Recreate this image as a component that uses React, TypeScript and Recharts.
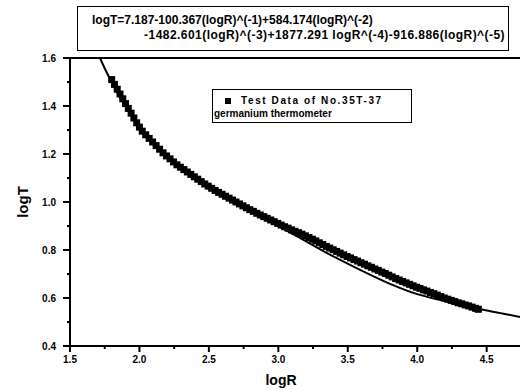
import {
  ComposedChart,
  Line,
  ReferenceLine,
  Scatter,
  XAxis,
  YAxis,
} from 'recharts';

// measured squares (logR, logT)
const DATA_X = [
  1.8, 1.82, 1.84, 1.86, 1.88, 1.9, 1.92, 1.94, 1.96, 1.98, 2.0, 2.02, 2.045, 2.07, 2.095,
  2.12, 2.145, 2.17, 2.195, 2.22, 2.245, 2.27, 2.295, 2.32, 2.345, 2.37, 2.395, 2.42, 2.445,
  2.47, 2.495, 2.52, 2.545, 2.57, 2.595, 2.62, 2.645, 2.67, 2.695, 2.72, 2.745, 2.77, 2.795,
  2.82, 2.845, 2.87, 2.895, 2.92, 2.945, 2.97, 2.995, 3.02, 3.045, 3.07, 3.095, 3.12, 3.145,
  3.17, 3.195, 3.22, 3.245, 3.27, 3.295, 3.32, 3.345, 3.37, 3.395, 3.42, 3.445, 3.47, 3.495,
  3.52, 3.545, 3.57, 3.595, 3.62, 3.645, 3.67, 3.695, 3.72, 3.745, 3.77, 3.795, 3.82, 3.845,
  3.87, 3.895, 3.92, 3.945, 3.97, 3.995, 4.02, 4.045, 4.07, 4.095, 4.12, 4.145, 4.17, 4.195,
  4.22, 4.245, 4.27, 4.295, 4.32, 4.345, 4.37, 4.395, 4.42, 4.44,
];
const DATA_Y = [
  1.51, 1.49, 1.47, 1.45, 1.43, 1.41, 1.39, 1.37, 1.35, 1.33, 1.312, 1.295, 1.28, 1.265, 1.25,
  1.235, 1.22, 1.205, 1.192, 1.18, 1.167, 1.155, 1.145, 1.135, 1.125, 1.115, 1.105, 1.095, 1.085,
  1.075, 1.066, 1.057, 1.048, 1.04, 1.032, 1.024, 1.016, 1.008, 1.0, 0.992, 0.984, 0.976, 0.968,
  0.961, 0.953, 0.946, 0.939, 0.932, 0.925, 0.918, 0.911, 0.904, 0.897, 0.891, 0.884, 0.878, 0.872,
  0.866, 0.859, 0.852, 0.845, 0.838, 0.83, 0.823, 0.815, 0.808, 0.801, 0.794, 0.787, 0.78, 0.773,
  0.767, 0.76, 0.754, 0.747, 0.741, 0.734, 0.728, 0.721, 0.715, 0.708, 0.702, 0.695, 0.688, 0.681,
  0.675, 0.669, 0.663, 0.657, 0.651, 0.645, 0.64, 0.634, 0.629, 0.623, 0.618, 0.612, 0.606, 0.6,
  0.595, 0.59, 0.585, 0.58, 0.576, 0.571, 0.567, 0.562, 0.557, 0.553,
];

// polynomial fit curve
const FIT_X = [1.716, 1.76, 1.8, 1.85, 1.9, 2.0, 2.1, 2.2, 2.4, 2.6, 2.8, 3.0, 3.2, 3.4, 3.6, 3.8, 4.0, 4.2, 4.4, 4.6, 4.74];
const FIT_Y = [1.6, 1.545, 1.5, 1.445, 1.4, 1.31, 1.245, 1.19, 1.105, 1.03, 0.963, 0.9, 0.836, 0.772, 0.714, 0.66, 0.616, 0.587, 0.56, 0.537, 0.521];

const X_TICKS = [1.5, 1.75, 2.0, 2.25, 2.5, 2.75, 3.0, 3.25, 3.5, 3.75, 4.0, 4.25, 4.5];
const Y_TICKS = [0.4, 0.5, 0.6, 0.7, 0.8, 0.9, 1.0, 1.1, 1.2, 1.3, 1.4, 1.5, 1.6];

const FIT_LINE_1 = 'logT=7.187-100.367(logR)^(-1)+584.174(logR)^(-2)';
const FIT_LINE_2 = '-1482.601(logR)^(-3)+1877.291 logR^(-4)-916.886(logR)^(-5)';

const INK = '#000';
const FONT = '"Liberation Sans", Arial, sans-serif';

const points = DATA_X.map((x, i) => ({ x, y: DATA_Y[i] }));
const fit = FIT_X.map((x, i) => ({ x, y: FIT_Y[i] }));

const isMajor = (v: number, step: number) => Math.abs(v / step - Math.round(v / step)) < 1e-6;

function XTick({ x, y, payload }: any) {
  const major = isMajor(payload.value, 0.5);
  return (
    <g>
      <line x1={x} x2={x} y1={y} y2={y + (major ? 6 : 3)} stroke={INK} strokeWidth={2} />
      {major && (
        <text x={x} y={y + 17} textAnchor="middle" fontFamily={FONT} fontWeight="bold" fontSize={10} fill={INK}>
          {payload.value.toFixed(1)}
        </text>
      )}
    </g>
  );
}

function YTick({ x, y, payload }: any) {
  const major = isMajor(payload.value, 0.2);
  return (
    <g>
      <line x1={x} x2={x - (major ? 7 : 3)} y1={y} y2={y} stroke={INK} strokeWidth={2} />
      {major && (
        <text x={x - 14} y={y + 3.5} textAnchor="end" fontFamily={FONT} fontWeight="bold" fontSize={10} fill={INK}>
          {payload.value.toFixed(1)}
        </text>
      )}
    </g>
  );
}

function SquareDot({ cx, cy }: any) {
  return <rect x={cx - 3.5} y={cy - 3.5} width={7} height={7} fill={INK} />;
}

export default function App() {
  return (
    <div style={{ position: 'relative', width: 520, height: 392, background: '#fff', fontFamily: FONT }}>
      <style>{'body{margin:0}'}</style>
      <ComposedChart width={520} height={392} margin={{ top: 58, right: 0, bottom: 16, left: 10 }}>
        <XAxis
          type="number"
          dataKey="x"
          domain={[1.5, 4.74]}
          ticks={X_TICKS}
          tick={<XTick />}
          tickSize={0}
          tickMargin={0}
          tickLine={false}
          axisLine={{ stroke: INK, strokeWidth: 2 }}
          height={30}
          allowDataOverflow
        />
        <YAxis
          type="number"
          dataKey="y"
          domain={[0.4, 1.6]}
          ticks={Y_TICKS}
          tick={<YTick />}
          tickSize={0}
          tickMargin={0}
          tickLine={false}
          axisLine={{ stroke: INK, strokeWidth: 2 }}
          width={60}
          allowDataOverflow
        />
        <ReferenceLine y={1.6} stroke={INK} strokeWidth={2} />
        <Scatter data={points} dataKey="y" shape={<SquareDot />} isAnimationActive={false} />
        <Line
          data={fit}
          dataKey="y"
          type="monotone"
          stroke={INK}
          strokeWidth={2}
          dot={false}
          activeDot={false}
          isAnimationActive={false}
        />
      </ComposedChart>

      {/* fit equation box */}
      <div
        style={{
          position: 'absolute',
          left: 77,
          top: 6,
          width: 432,
          height: 45,
          border: '1.5px solid #000',
          fontSize: 12,
          fontWeight: 'bold',
          lineHeight: '14px',
          whiteSpace: 'nowrap',
          boxSizing: 'border-box',
        }}
      >
        <div style={{ position: 'absolute', left: 14, top: 6 }}>{FIT_LINE_1}</div>
        <div style={{ position: 'absolute', right: 3, top: 21, letterSpacing: 0.45 }}>{FIT_LINE_2}</div>
      </div>

      {/* legend box */}
      <div
        style={{
          position: 'absolute',
          left: 212,
          top: 89,
          width: 200,
          height: 34,
          border: '1.5px solid #000',
          fontSize: 10,
          fontWeight: 'bold',
          lineHeight: '13px',
          whiteSpace: 'nowrap',
          boxSizing: 'border-box',
        }}
      >
        <div style={{ position: 'absolute', left: 12, top: 4, display: 'flex', alignItems: 'center', letterSpacing: 1.6 }}>
          <span style={{ display: 'inline-block', width: 6, height: 6, background: '#000', marginRight: 10 }} />
          Test Data of No.35T-37
        </div>
        <div style={{ position: 'absolute', left: 1, top: 17 }}>germanium thermometer</div>
      </div>

      <div
        style={{
          position: 'absolute',
          left: 22,
          top: 202,
          transform: 'translate(-50%, -50%) rotate(-90deg)',
          fontSize: 15,
          fontWeight: 'bold',
        }}
      >
        logT
      </div>
      <div
        style={{
          position: 'absolute',
          left: 281,
          top: 380,
          transform: 'translate(-50%, -50%)',
          fontSize: 14,
          fontWeight: 'bold',
        }}
      >
        logR
      </div>
    </div>
  );
}
